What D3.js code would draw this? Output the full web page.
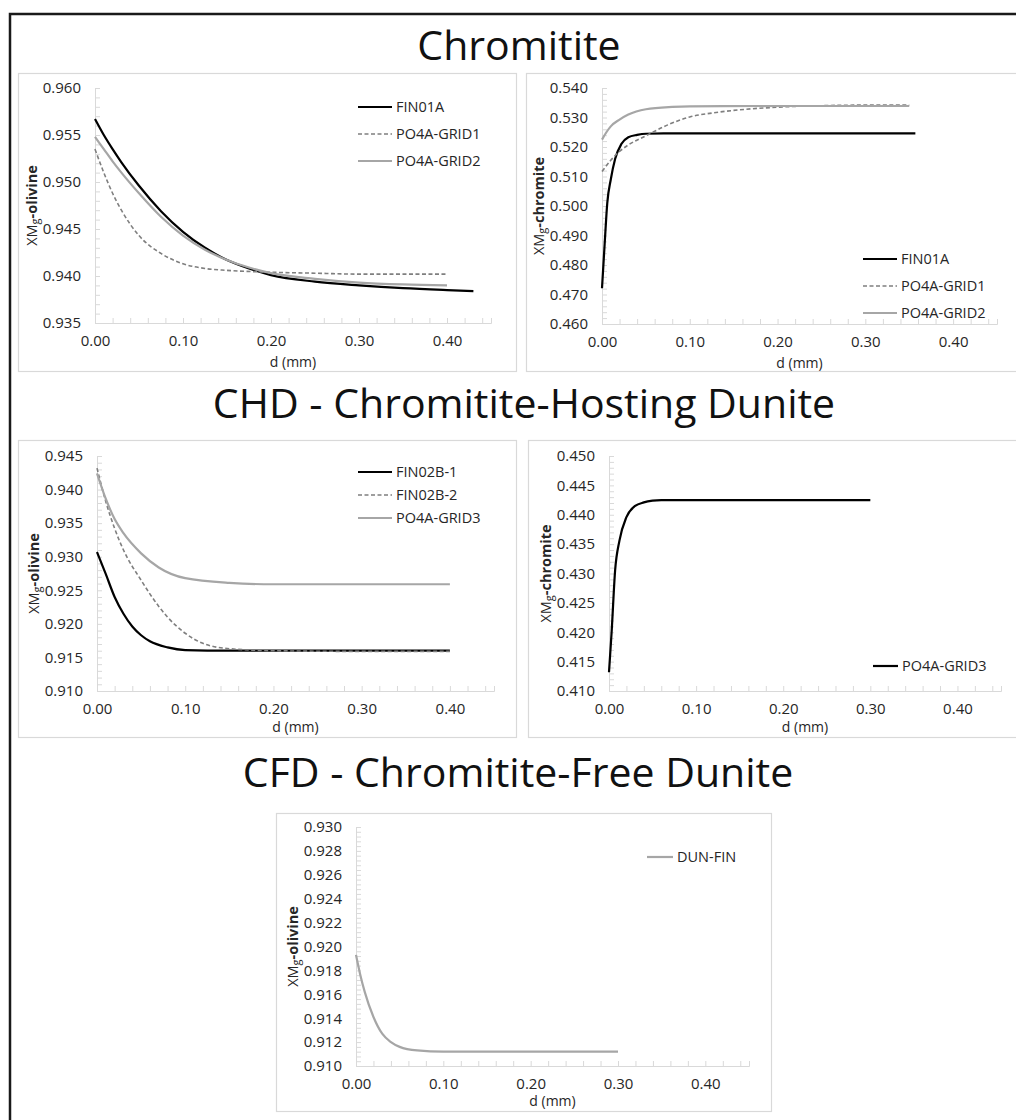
<!DOCTYPE html>
<html><head><meta charset="utf-8">
<script src="https://cdn.jsdelivr.net/npm/d3@7"></script>
<style>body{margin:0;background:#fff}svg{display:block}</style>
</head><body>
<svg id="c" width="1016" height="1120"></svg>
<script>
// ---------- data ----------
const titles = ["Chromitite", "CHD - Chromitite-Hosting Dunite", "CFD - Chromitite-Free Dunite"];
const xTicks = [0, 0.1, 0.2, 0.3, 0.4];
const xLabel = "d (mm)";

// Panel A: Chromitite olivine
const a_fin01a_x = [0, 0.01, 0.02, 0.03, 0.05, 0.075, 0.10, 0.125, 0.15, 0.175, 0.20, 0.25, 0.30, 0.35, 0.40, 0.43];
const a_fin01a_y = [0.9567, 0.9550, 0.9535, 0.9521, 0.9496, 0.9469, 0.9447, 0.9430, 0.9417, 0.9408, 0.9401, 0.9394, 0.9390, 0.9387, 0.9385, 0.9384];
const a_grid1_x = [0, 0.01, 0.02, 0.03, 0.05, 0.075, 0.10, 0.125, 0.15, 0.20, 0.25, 0.30, 0.40];
const a_grid1_y = [0.9535, 0.9510, 0.9488, 0.9470, 0.9443, 0.9424, 0.9413, 0.9408, 0.9406, 0.9404, 0.9403, 0.9402, 0.9402];
const a_grid2_x = [0, 0.01, 0.02, 0.03, 0.05, 0.075, 0.10, 0.125, 0.15, 0.175, 0.20, 0.25, 0.30, 0.35, 0.40];
const a_grid2_y = [0.9548, 0.9535, 0.9522, 0.9510, 0.9488, 0.9463, 0.9443, 0.9428, 0.9417, 0.9409, 0.9403, 0.9397, 0.9393, 0.9391, 0.9390];
const a_yTicks = [0.935, 0.940, 0.945, 0.950, 0.955, 0.960];

// Panel B: Chromitite chromite
const b_fin01a_x = [0, 0.003, 0.006, 0.010, 0.015, 0.022, 0.030, 0.040, 0.050, 0.070, 0.10, 0.20, 0.357];
const b_fin01a_y = [0.4721, 0.4870, 0.5010, 0.5090, 0.5160, 0.5210, 0.5233, 0.5241, 0.5245, 0.5246, 0.5246, 0.5246, 0.5246];
const b_grid1_x = [0, 0.01, 0.02, 0.03, 0.05, 0.075, 0.10, 0.125, 0.15, 0.20, 0.25, 0.30, 0.35];
const b_grid1_y = [0.5117, 0.5155, 0.5185, 0.5207, 0.5238, 0.5275, 0.5302, 0.5315, 0.5324, 0.5335, 0.5340, 0.5342, 0.5342];
const b_grid2_x = [0, 0.005, 0.01, 0.02, 0.03, 0.05, 0.08, 0.10, 0.20, 0.35];
const b_grid2_y = [0.5225, 0.5250, 0.5270, 0.5293, 0.5310, 0.5328, 0.5336, 0.5338, 0.5339, 0.5339];
const b_yTicks = [0.460, 0.470, 0.480, 0.490, 0.500, 0.510, 0.520, 0.530, 0.540];

// Panel C: CHD olivine
const c_fin02b1_x = [0, 0.01, 0.02, 0.03, 0.04, 0.05, 0.06, 0.08, 0.10, 0.15, 0.20, 0.30, 0.40];
const c_fin02b1_y = [0.9307, 0.9274, 0.9240, 0.9215, 0.9196, 0.9183, 0.9174, 0.9165, 0.9161, 0.9160, 0.9160, 0.9160, 0.9160];
const c_fin02b2_x = [0, 0.01, 0.02, 0.03, 0.05, 0.07, 0.08, 0.10, 0.12, 0.15, 0.20, 0.30, 0.40];
const c_fin02b2_y = [0.9432, 0.9382, 0.9342, 0.9310, 0.9265, 0.9226, 0.9210, 0.9186, 0.9171, 0.9163, 0.9160, 0.9159, 0.9159];
const c_grid3_x = [0, 0.01, 0.02, 0.03, 0.05, 0.07, 0.10, 0.15, 0.20, 0.30, 0.40];
const c_grid3_y = [0.9424, 0.9386, 0.9356, 0.9335, 0.9305, 0.9284, 0.9268, 0.9261, 0.9259, 0.9259, 0.9259];
const c_yTicks = [0.910, 0.915, 0.920, 0.925, 0.930, 0.935, 0.940, 0.945];

// Panel D: CHD chromite
const d_grid3_x = [0, 0.003, 0.007, 0.012, 0.020, 0.030, 0.040, 0.050, 0.060, 0.10, 0.20, 0.30];
const d_grid3_y = [0.4132, 0.4200, 0.4305, 0.4356, 0.4396, 0.4415, 0.4421, 0.4424, 0.4425, 0.4425, 0.4425, 0.4425];
const d_yTicks = [0.410, 0.415, 0.420, 0.425, 0.430, 0.435, 0.440, 0.445, 0.450];

// Panel E: CFD olivine
const e_dunfin_x = [0, 0.005, 0.01, 0.02, 0.03, 0.04, 0.05, 0.07, 0.10, 0.15, 0.20, 0.30];
const e_dunfin_y = [0.9193, 0.9176, 0.9162, 0.9141, 0.9127, 0.9120, 0.9116, 0.9113, 0.9112, 0.9112, 0.9112, 0.9112];
const e_yTicks = [0.910, 0.912, 0.914, 0.916, 0.918, 0.920, 0.922, 0.924, 0.926, 0.928, 0.930];

// ---------- styles ----------
const styles = {
  black: {stroke: "#000", width: 2.2, dash: null},
  dash:  {stroke: "#7f7f7f", width: 1.6, dash: "4,2.5"},
  gray:  {stroke: "#a6a6a6", width: 2.2, dash: null}
};

const panels = [
  {frame:[18,73,498,298], plot:[95,88,491,323], y:a_yTicks, yLab:"olivine", xLabOff:44,
   legend:{x:358, y:107, dy:27},
   series:[{n:"FIN01A",x:a_fin01a_x,y:a_fin01a_y,s:"black"},{n:"PO4A-GRID1",x:a_grid1_x,y:a_grid1_y,s:"dash"},{n:"PO4A-GRID2",x:a_grid2_x,y:a_grid2_y,s:"gray"}]},
  {frame:[526,73,520,298], plot:[602,88,997,324], y:b_yTicks, yLab:"chromite", xLabOff:44,
   legend:{x:863, y:259, dy:27},
   series:[{n:"FIN01A",x:b_fin01a_x,y:b_fin01a_y,s:"black"},{n:"PO4A-GRID1",x:b_grid1_x,y:b_grid1_y,s:"dash"},{n:"PO4A-GRID2",x:b_grid2_x,y:b_grid2_y,s:"gray"}]},
  {frame:[18,440,498,297], plot:[97,456,494,691], y:c_yTicks, yLab:"olivine", xLabOff:41,
   legend:{x:358, y:472, dy:23},
   series:[{n:"FIN02B-1",x:c_fin02b1_x,y:c_fin02b1_y,s:"black"},{n:"FIN02B-2",x:c_fin02b2_x,y:c_fin02b2_y,s:"dash"},{n:"PO4A-GRID3",x:c_grid3_x,y:c_grid3_y,s:"gray"}]},
  {frame:[528,440,520,297], plot:[609,456,1001,691], y:d_yTicks, yLab:"chromite", xLabOff:41,
   legend:{x:873, y:666, dy:23, len:25},
   series:[{n:"PO4A-GRID3",x:d_grid3_x,y:d_grid3_y,s:"black"}]},
  {frame:[276,813,495,298], plot:[356,827,749,1066], y:e_yTicks, yLab:"olivine", xLabOff:40,
   legend:{x:647, y:857, dy:23, len:26},
   series:[{n:"DUN-FIN",x:e_dunfin_x,y:e_dunfin_y,s:"gray"}]}
];

const svg = d3.select("#c");
const FONT = "'Open Sans', sans-serif";
const TXT = "#262626";

// outer frame
svg.append("rect").attr("x",10).attr("y",14).attr("width",1020).attr("height",1120)
  .attr("fill","none").attr("stroke","#1a1a1a").attr("stroke-width",2.5);

// titles
const titleY = [60, 418, 787];
const titleX = [519, 524, 518];
titles.forEach((t,i)=>{
  svg.append("text").attr("x",titleX[i]).attr("y",titleY[i]).attr("text-anchor","middle")
    .attr("font-family",FONT).attr("font-size",41).attr("fill","#111").text(t);
});

panels.forEach(p=>{
  const g = svg.append("g");
  g.append("rect").attr("x",p.frame[0]+0.5).attr("y",p.frame[1]+0.5).attr("width",p.frame[2]).attr("height",p.frame[3])
    .attr("fill","#fff").attr("stroke","#d9d9d9").attr("stroke-width",1.2);
  const [x0,y0,x1,y1] = p.plot;
  const xs = d3.scaleLinear().domain([0,0.45]).range([x0,x1]);
  const ys = d3.scaleLinear().domain([p.y[0], p.y[p.y.length-1]]).range([y1,y0]);

  // minor ticks
  const xMinor = d3.range(0, 0.4501, 0.02);
  const yStep = (p.y[1]-p.y[0])/5;
  const yMinor = d3.range(0, Math.round((p.y[p.y.length-1]-p.y[0])/yStep)+1).map(i=>p.y[0]+i*yStep);

  const xAx = d3.axisBottom(xs).tickValues(xMinor).tickSize(-5).tickFormat("");
  const xg = g.append("g").attr("transform",`translate(0,${y1})`).call(xAx);
  const yAx = d3.axisLeft(ys).tickValues(yMinor).tickSize(-5).tickFormat("");
  const yg = g.append("g").attr("transform",`translate(${x0},0)`).call(yAx);
  [xg,yg].forEach(a=>{a.selectAll("path,line").attr("stroke","#d9d9d9").attr("stroke-width",1);});

  // tick labels
  const xl = d3.axisBottom(xs).tickValues(xTicks).tickSize(0).tickPadding(12).tickFormat(d3.format(".2f"));
  const xlg = g.append("g").attr("transform",`translate(0,${y1})`).call(xl);
  const yl = d3.axisLeft(ys).tickValues(p.y).tickSize(0).tickPadding(14).tickFormat(d3.format(".3f"));
  const ylg = g.append("g").attr("transform",`translate(${x0},0)`).call(yl);
  [xlg,ylg].forEach(a=>{
    a.select(".domain").remove();
    a.selectAll("text").attr("font-family",FONT).attr("font-size",15).attr("fill",TXT);
  });

  // axis titles
  g.append("text").attr("x",(x0+x1)/2).attr("y",y1+p.xLabOff).attr("text-anchor","middle")
    .attr("font-family",FONT).attr("font-size",14).attr("fill",TXT).text(xLabel);
  const yt = g.append("text").attr("transform",`translate(${x0-58},${(y0+y1)/2}) rotate(-90)`)
    .attr("text-anchor","middle").attr("font-family",FONT).attr("font-size",14.5).attr("fill",TXT);
  yt.append("tspan").text("XM");
  yt.append("tspan").attr("font-size",11).attr("dy",2).text("g");
  yt.append("tspan").attr("dy",-2).attr("font-weight","bold").text("-" + p.yLab);

  // lines
  const line = d3.line().x(d=>xs(d[0])).y(d=>ys(d[1])).curve(d3.curveMonotoneX);
  p.series.forEach(s=>{
    const st = styles[s.s];
    g.append("path").datum(s.x.map((v,i)=>[v,s.y[i]])).attr("d",line)
      .attr("fill","none").attr("stroke",st.stroke).attr("stroke-width",st.width)
      .attr("stroke-dasharray",st.dash);
  });

  // legend
  const L = p.legend, len = L.len || 34;
  p.series.forEach((s,i)=>{
    const st = styles[s.s];
    const yy = L.y + i*L.dy;
    g.append("line").attr("x1",L.x).attr("x2",L.x+len).attr("y1",yy).attr("y2",yy)
      .attr("stroke",st.stroke).attr("stroke-width",st.width).attr("stroke-dasharray",st.dash);
    g.append("text").attr("x",L.x+len+4).attr("y",yy).attr("dy","0.35em")
      .attr("font-family",FONT).attr("font-size",14.5).attr("fill",TXT).text(s.n);
  });
});
</script>
</body></html>
